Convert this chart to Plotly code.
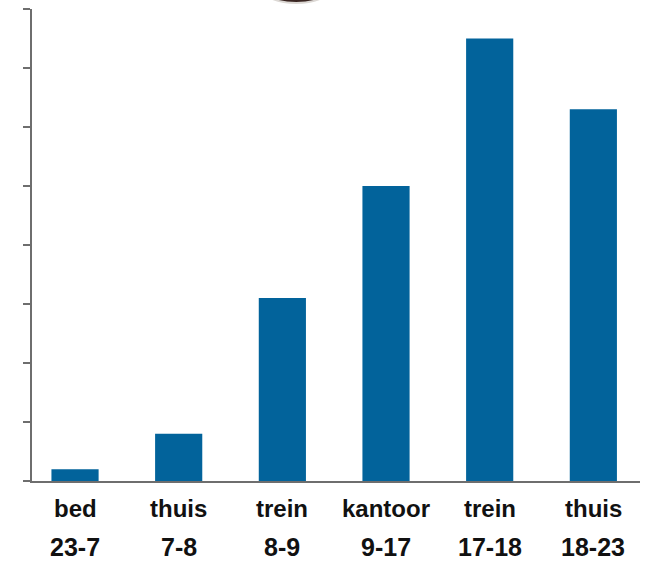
import plotly.graph_objects as go

# Activities and time slots for a day, with the value for each slot
activities = ["bed", "thuis", "trein", "kantoor", "trein", "thuis"]
hours = ["23-7", "7-8", "8-9", "9-17", "17-18", "18-23"]
values = [0.2, 0.8, 3.1, 5.0, 7.5, 6.3]

bar_color = "#02639b"
axis_color = "#6e6e6e"
label_font = dict(family="Liberation Sans, Arial, sans-serif", size=24, color="#111111")
hour_font = dict(family="Liberation Sans, Arial, sans-serif", size=25, color="#111111")

fig = go.Figure(
    go.Bar(
        x=hours,
        y=values,
        marker=dict(color=bar_color, line=dict(width=0)),
        width=0.455,
    )
)

# Two-row category labels under the axis: activity, then the hours
annotations = []
for act, hr in zip(activities, hours):
    annotations.append(dict(x=hr, y=-0.059, xref="x", yref="paper", text="<b>%s</b>" % act,
                            showarrow=False, font=label_font, xanchor="center", yanchor="middle"))
    annotations.append(dict(x=hr, y=-0.140, xref="x", yref="paper", text="<b>%s</b>" % hr,
                            showarrow=False, font=hour_font, xanchor="center", yanchor="middle"))

fig.update_layout(
    width=646,
    height=563,
    margin=dict(l=32, r=6, t=9, b=82),
    paper_bgcolor="white",
    plot_bgcolor="white",
    showlegend=False,
    annotations=annotations,
    shapes=[
        # dark rounded object peeking in at the top edge
        dict(type="circle", xref="paper", yref="paper", x0=0.370, x1=0.499, y0=1.0125, y1=1.10,
             fillcolor="#3a2622", line=dict(color="#dcd8d4", width=2), layer="above"),
    ],
    xaxis=dict(
        type="category",
        range=[-0.415, 5.45],
        showticklabels=False,
        showgrid=False,
        zeroline=False,
        showline=True,
        linecolor=axis_color,
        linewidth=2,
        ticks="",
    ),
    yaxis=dict(
        range=[0, 8],
        dtick=1,
        showticklabels=False,
        showgrid=False,
        zeroline=False,
        showline=True,
        linecolor=axis_color,
        linewidth=2,
        ticks="outside",
        ticklen=7,
        tickwidth=2,
        tickcolor=axis_color,
    ),
)

fig.write_html("out.html")
